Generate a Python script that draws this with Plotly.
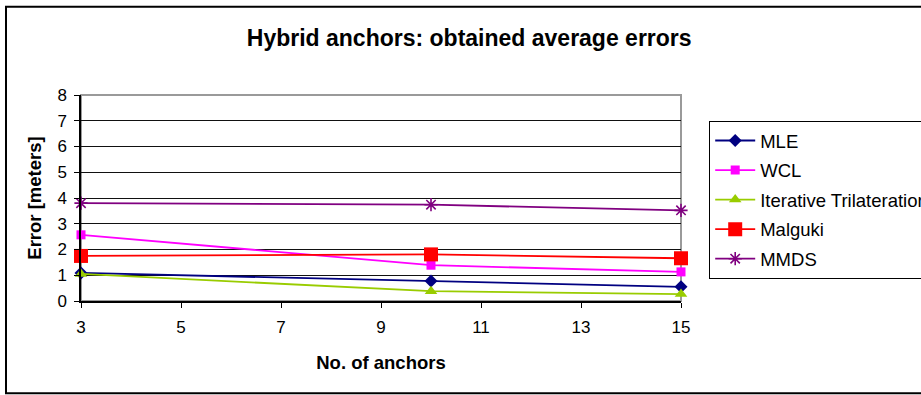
import plotly.graph_objects as go

# Number of anchors at which each algorithm was evaluated
anchors = [3, 10, 15]

# Average localisation error (meters) per algorithm
mle = [1.09, 0.78, 0.55]
wcl = [2.57, 1.39, 1.13]
iterative = [1.05, 0.38, 0.27]
malguki = [1.75, 1.81, 1.66]
mmds = [3.80, 3.74, 3.52]

x_ticks = [3, 5, 7, 9, 11, 13, 15]
y_ticks = [0, 1, 2, 3, 4, 5, 6, 7, 8]

FONT = "Liberation Sans, Arial, sans-serif"

series = [
    ("MLE", mle, "#000080", "diamond", 10, None),
    ("WCL", wcl, "#FF00FF", "square", 9, None),
    ("Iterative Trilateration", iterative, "#99CC00", "triangle-up", 11, None),
    ("Malguki", malguki, "#FF0000", "square", 14, None),
    ("MMDS", mmds, "#800080", "asterisk-open", 11, 1.6),
]

fig = go.Figure()
for name, vals, color, symbol, size, mlw in series:
    marker = dict(symbol=symbol, size=size, color=color)
    if mlw:
        marker["line"] = dict(color=color, width=mlw)
    else:
        marker["line"] = dict(width=0)
    fig.add_trace(go.Scatter(
        x=anchors, y=vals, name=name, mode="lines+markers",
        line=dict(color=color, width=1.8), marker=marker,
        legendgroup=name, cliponaxis=False,
    ))

# plot-area frame and outer chart border
fig.add_shape(type="rect", xref="paper", yref="paper", x0=0, x1=1, y0=0, y1=1,
              line=dict(color="#9a9a9a", width=2), layer="below")
fig.add_shape(type="rect", xref="paper", yref="paper",
              x0=-0.125, x1=1.42, y0=-0.448, y1=1.428,
              line=dict(color="#000000", width=2), layer="below")

fig.update_layout(
    width=921, height=395,
    margin=dict(l=81, r=240, t=95, b=94, autoexpand=False),
    paper_bgcolor="white", plot_bgcolor="white",
    font=dict(family=FONT, size=17, color="black"),
    title=dict(text="<b>Hybrid anchors: obtained average errors</b>",
               font=dict(family=FONT, size=23, color="black"),
               x=0.647, xanchor="center", xref="paper",
               y=1 - 38 / 395, yanchor="middle", yref="container"),
    showlegend=True,
    legend=dict(x=1.047, y=0.874, xanchor="left", yanchor="top",
                bordercolor="black", borderwidth=1, bgcolor="white",
                font=dict(family=FONT, size=18.5, color="black"),
                itemwidth=40, tracegroupgap=2.5, traceorder="grouped"),
)

fig.update_xaxes(
    range=[3, 15], tickvals=x_ticks, ticks="outside", ticklen=5,
    tickcolor="black", showline=True, linecolor="black", linewidth=1.5,
    showgrid=False, zeroline=False, ticklabelstandoff=5,
    tickfont=dict(family=FONT, size=17, color="black"),
    title=dict(text="<b>No. of anchors</b>", standoff=20,
               font=dict(family=FONT, size=18.5, color="black")),
)
fig.update_yaxes(
    range=[0, 8], tickvals=y_ticks, ticks="outside", ticklen=5,
    tickcolor="black", showline=True, linecolor="black", linewidth=1.5,
    showgrid=True, gridcolor="#111111", gridwidth=1, zeroline=False,
    ticklabelstandoff=4,
    tickfont=dict(family=FONT, size=17, color="black"),
    title=dict(text="<b>Error [meters]</b>", standoff=11,
               font=dict(family=FONT, size=18.5, color="black")),
)

fig.write_html("out.html")
